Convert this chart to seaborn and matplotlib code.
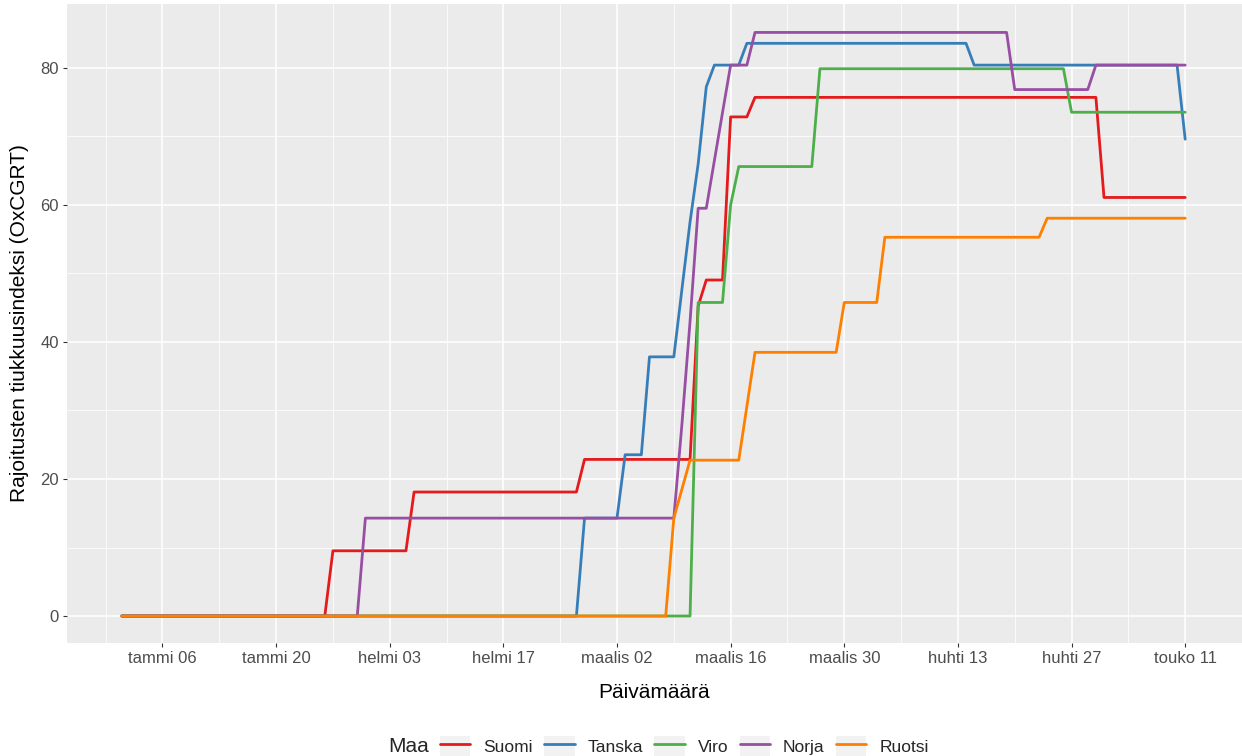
"""
Stringency index (OxCGRT) of the Nordic countries, Jan - May 2020.
"""

import pandas as pd
import matplotlib
matplotlib.use("Agg")
import matplotlib.pyplot as plt
import matplotlib.dates as mdates
from matplotlib.lines import Line2D
from matplotlib.patches import Rectangle
from matplotlib.legend_handler import HandlerTuple
import seaborn as sns

START = pd.Timestamp("2020-01-01")

countries = ["Suomi", "Tanska", "Viro", "Norja", "Ruotsi"]
colors = ["#E41A1C", "#377EB8", "#4DAF4A", "#984EA3", "#FF7F00"]

# days since 1.1.2020 where the index changes + index value on those days
suomi_days = [0, 25, 26, 35, 36, 56, 57, 70, 71, 72, 74, 75, 77, 78, 120, 121, 131]
suomi_vals = [0, 0, 9.52, 9.52, 18.1, 18.1, 22.86, 22.86, 45.24, 49.05, 49.05,
              72.86, 72.86, 75.71, 75.71, 61.1, 61.1]

tanska_days = [0, 56, 57, 61, 62, 64, 65, 68, 69, 70, 71, 72, 73, 76, 77, 104, 105, 130, 131]
tanska_vals = [0, 0, 14.29, 14.29, 23.54, 23.54, 37.83, 37.83, 47.7, 57.54, 66.0,
               77.25, 80.42, 80.42, 83.6, 83.6, 80.42, 80.42, 69.6]

viro_days = [0, 70, 71, 74, 75, 76, 85, 86, 116, 117, 131]
viro_vals = [0, 0, 45.77, 45.77, 60.0, 65.61, 65.61, 79.89, 79.89, 73.54, 73.54]

norja_days = [0, 29, 30, 68, 69, 70, 71, 72, 73, 74, 75, 77, 78, 109, 110, 119, 120, 131]
norja_vals = [0, 0, 14.29, 14.29, 28.0, 43.0, 59.52, 59.52, 66.5, 73.5, 80.42, 80.42,
              85.19, 85.19, 76.85, 76.85, 80.42, 80.42]

ruotsi_days = [0, 67, 68, 69, 70, 76, 77, 78, 88, 89, 93, 94, 113, 114, 131]
ruotsi_vals = [0, 0, 14.29, 18.52, 22.75, 22.75, 30.6, 38.49, 38.49, 45.77, 45.77,
               55.29, 55.29, 58.07, 58.07]

tick_labels = ["tammi 06", "tammi 20", "helmi 03", "helmi 17", "maalis 02",
               "maalis 16", "maalis 30", "huhti 13", "huhti 27", "touko 11"]
y_ticks = [0, 20, 40, 60, 80]


def build_frame():
    """Long format frame for seaborn."""
    series = {
        "Suomi": (suomi_days, suomi_vals),
        "Tanska": (tanska_days, tanska_vals),
        "Viro": (viro_days, viro_vals),
        "Norja": (norja_days, norja_vals),
        "Ruotsi": (ruotsi_days, ruotsi_vals),
    }
    parts = []
    for name, (days, vals) in series.items():
        parts.append(pd.DataFrame({
            "pvm": START + pd.to_timedelta(days, unit="D"),
            "indeksi": vals,
            "Maa": name,
        }))
    return pd.concat(parts, ignore_index=True)


def main():
    df = build_frame()

    sns.set_theme(style="darkgrid")
    plt.rcParams["font.family"] = ["Liberation Sans", "DejaVu Sans"]

    fig = plt.figure(figsize=(12.42, 7.56), dpi=100)
    W, H = 1242, 756
    ax = fig.add_axes([67 / W, 1 - 643 / H, (1242 - 67) / W, (643 - 4) / H])
    ax.set_facecolor("#EBEBEB")

    palette = dict(zip(countries, colors))
    sns.lineplot(data=df, x="pvm", y="indeksi", hue="Maa", hue_order=countries,
                 palette=palette, linewidth=2.0, legend=False, ax=ax,
                 estimator=None, sort=False)

    # axis limits (ggplot style expansion)
    x0 = mdates.date2num(START)
    ax.set_xlim(x0 - 6.76, x0 + 137.2)
    ax.set_ylim(-3.94, 89.34)

    tick_dates = pd.date_range("2020-01-06", periods=len(tick_labels), freq="14D")
    ax.set_xticks(mdates.date2num(tick_dates))
    ax.set_xticklabels(tick_labels)
    minor_dates = pd.date_range("2019-12-30", periods=len(tick_labels) + 1, freq="14D")
    ax.set_xticks(mdates.date2num(minor_dates), minor=True)
    ax.set_yticks(y_ticks)
    ax.set_yticks([10, 30, 50, 70], minor=True)

    ax.grid(which="major", color="white", linewidth=1.1)
    ax.grid(which="minor", color="white", linewidth=0.55)
    for s in ax.spines.values():
        s.set_visible(False)

    ax.tick_params(which="major", length=2.9, width=0.8, color="#333333",
                   labelsize=12, labelcolor="#4D4D4D", pad=3, bottom=True, left=True)
    ax.tick_params(which="minor", length=0)

    ax.set_xlabel("Päivämäärä", fontsize=15, color="black", labelpad=12)
    ax.set_ylabel("Rajoitusten tiukkuusindeksi (OxCGRT)", fontsize=15,
                  color="black", labelpad=8)

    # legend at the bottom, title on the left
    handles = [(Rectangle((0, 0), 1, 1, facecolor="#F2F2F2", edgecolor="none"),
                Line2D([], [], color=c, linewidth=2.0)) for c in colors]
    fig.legend(handles, countries, handler_map={tuple: HandlerTuple(ndivide=1)},
               loc="center left", bbox_to_anchor=(440 / W, 1 - 746 / H),
               ncol=5, frameon=False, fontsize=12.5, handlelength=1.75,
               handleheight=1.4, handletextpad=0.75, columnspacing=0.65,
               borderpad=0, borderaxespad=0)
    fig.text(388 / W, 1 - 746 / H, "Maa", fontsize=15, ha="left", va="center")

    fig.savefig("out.png", dpi=100)
    plt.close(fig)


if __name__ == "__main__":
    main()
